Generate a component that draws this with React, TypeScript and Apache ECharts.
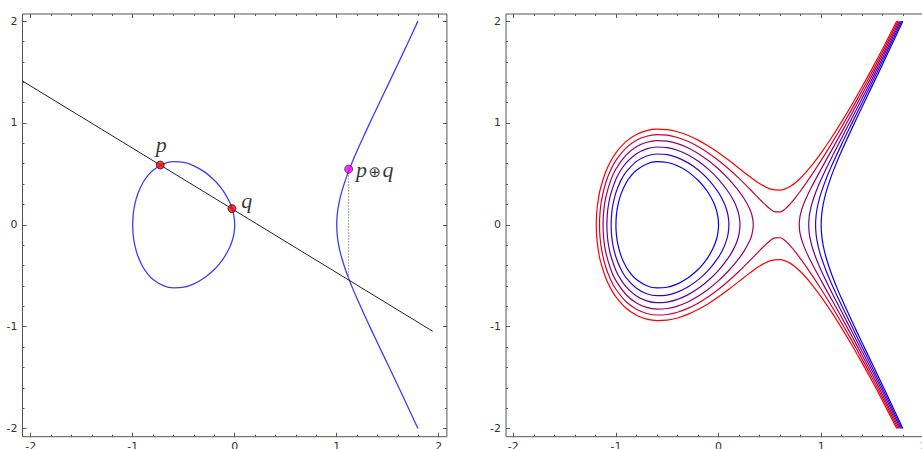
import React, { useEffect, useRef } from "react";
import * as echarts from "echarts";

// ---------- data ----------
const tickValues = [-2, -1, 0, 1, 2];
const tickLabels = ["-2", "-1", "0", "1", "2"];

// contour levels of y^2 - x^3 + x, right panel (blue -> red)
const levels = [0, 0.1, 0.2, 0.3, 0.4, 0.5];
const levelColors = ["#0000ff", "#3300cc", "#660099", "#990066", "#cc0033", "#ff0000"];

// upper halves of the curves, [x, y]; lower halves are their mirror images
const loopC0 = [[-1, 0], [-0.995, 0.0997], [-0.98, 0.197], [-0.95, 0.3043], [-0.9, 0.4135], [-0.85, 0.4857], [-0.8, 0.5367], [-0.7, 0.5975], [-0.6, 0.6197], [-0.5, 0.6124], [-0.4, 0.5797], [-0.3, 0.5225], [-0.2, 0.4382], [-0.15, 0.3829], [-0.1, 0.3146], [-0.05, 0.2233], [-0.02, 0.1414], [-0.005, 0.0707], [0, 0]];
const branchC0 = [[1, 0], [1.005, 0.1004], [1.02, 0.203], [1.05, 0.3281], [1.1, 0.4806], [1.15, 0.609], [1.2, 0.7266], [1.3, 0.9471], [1.4, 1.1593], [1.5, 1.3693], [1.6, 1.5799], [1.7, 1.7925], [1.796, 2]];
const loopC1 = [[-1.0467, 0], [-1.042, 0.1031], [-1.03, 0.1931], [-1, 0.3162], [-0.95, 0.4389], [-0.9, 0.5206], [-0.8, 0.6229], [-0.7, 0.676], [-0.6, 0.6957], [-0.5, 0.6892], [-0.4, 0.6603], [-0.3, 0.6107], [-0.2, 0.5404], [-0.1, 0.4461], [0, 0.3162], [0.05, 0.2239], [0.08, 0.1432], [0.095, 0.0765], [0.101, 0]];
const branchC1 = [[0.9456, 0], [0.95, 0.0859], [0.96, 0.1573], [0.98, 0.2474], [1, 0.3162], [1.05, 0.4557], [1.1, 0.5753], [1.2, 0.7925], [1.3, 0.9985], [1.4, 1.2017], [1.5, 1.4053], [1.6, 1.6112], [1.7, 1.8202], [1.785, 2]];
const loopC2 = [[-1.088, 0], [-1.083, 0.113], [-1.07, 0.212], [-1.05, 0.3039], [-1, 0.4472], [-0.95, 0.5409], [-0.9, 0.6091], [-0.8, 0.6986], [-0.7, 0.7463], [-0.6, 0.7642], [-0.5, 0.7583], [-0.4, 0.7321], [-0.3, 0.6877], [-0.2, 0.6261], [-0.1, 0.5468], [0, 0.4472], [0.1, 0.3178], [0.15, 0.231], [0.18, 0.1607], [0.2, 0.0894], [0.2091, 0]];
const branchC2 = [[0.8789, 0], [0.883, 0.0739], [0.89, 0.1223], [0.91, 0.2087], [0.95, 0.3277], [1, 0.4472], [1.1, 0.6565], [1.2, 0.8532], [1.3, 1.0474], [1.4, 1.2426], [1.5, 1.4405], [1.6, 1.642], [1.7, 1.8474], [1.773, 2]];
const loopC3 = [[-1.1254, 0], [-1.12, 0.1228], [-1.1, 0.2627], [-1.05, 0.4386], [-1, 0.5477], [-0.9, 0.6863], [-0.8, 0.7668], [-0.7, 0.8106], [-0.6, 0.827], [-0.5, 0.8216], [-0.4, 0.7975], [-0.3, 0.757], [-0.2, 0.7014], [-0.1, 0.6317], [0, 0.5477], [0.1, 0.4483], [0.2, 0.3286], [0.25, 0.2562], [0.3, 0.1643], [0.325, 0.0966], [0.3389, 0]];
const branchC3 = [[0.7865, 0], [0.79, 0.0551], [0.8, 0.1095], [0.82, 0.1771], [0.85, 0.2532], [0.9, 0.3592], [1, 0.5477], [1.1, 0.7287], [1.2, 0.9099], [1.3, 1.0941], [1.4, 1.2822], [1.5, 1.4748], [1.6, 1.6721], [1.7, 1.8743], [1.761, 2]];
const curveC4 = [[-1.1597, 0], [-1.155, 0.1192], [-1.14, 0.2418], [-1.1, 0.4111], [-1.05, 0.5407], [-1, 0.6325], [-0.9, 0.7556], [-0.8, 0.8295], [-0.7, 0.8701], [-0.6, 0.8854], [-0.5, 0.8803], [-0.4, 0.8579], [-0.3, 0.8204], [-0.2, 0.7694], [-0.1, 0.7064], [0, 0.6325], [0.1, 0.5486], [0.2, 0.4561], [0.3, 0.3564], [0.4, 0.253], [0.45, 0.2028], [0.5, 0.1581], [0.55, 0.128], [0.6, 0.1265], [0.65, 0.1569], [0.7, 0.2074], [0.75, 0.2681], [0.8, 0.3347], [0.9, 0.4785], [1, 0.6325], [1.1, 0.7944], [1.2, 0.9633], [1.3, 1.1389], [1.4, 1.3206], [1.5, 1.5083], [1.6, 1.7018], [1.7, 1.9008], [1.749, 2]];
const curveC5 = [[-1.1915, 0], [-1.187, 0.1206], [-1.17, 0.2615], [-1.15, 0.3593], [-1.1, 0.5187], [-1.05, 0.6264], [-1, 0.7071], [-0.9, 0.8191], [-0.8, 0.8877], [-0.7, 0.9257], [-0.6, 0.9402], [-0.5, 0.9354], [-0.4, 0.9143], [-0.3, 0.8792], [-0.2, 0.8319], [-0.1, 0.774], [0, 0.7071], [0.1, 0.6332], [0.2, 0.555], [0.3, 0.4764], [0.4, 0.405], [0.5, 0.3536], [0.6, 0.3406], [0.7, 0.3782], [0.8, 0.4604], [0.9, 0.5736], [1, 0.7071], [1.1, 0.855], [1.2, 1.0139], [1.3, 1.1819], [1.4, 1.3579], [1.5, 1.5411], [1.6, 1.7309], [1.7365, 2]];

// left panel: chord through p and q, and the sum point
const chordLine = [[-2.09, 1.418], [1.941, -1.045]];
const pointP = [-0.73, 0.587];
const pointQ = [-0.027, 0.16];
const pointSum = [1.117, 0.547];
const pointThird = [1.117, -0.54];

// ---------- layout ----------
const LEFT_FRAME = { x0: 22.5, x1: 446.9, y0: 14, y1: 436.7 };
const RIGHT_FRAME = { x0: 506, x1: 932, y0: 14, y1: 436.7 };
const X_RANGE_L = [-2.08, 2.08];
const X_RANGE_R = [-2.071, 2.08];
const Y_RANGE = [-2.08, 2.07];

type Pt = number[];
const closedLoop = (u: Pt[]) => [
  ...u,
  ...u.slice(0, -1).reverse().map(([x, y]) => [x, -y]),
  u[1],
];
const openCurve = (u: Pt[]) => [
  ...u.slice(1).reverse().map(([x, y]) => [x, -y]),
  ...u,
];

function innerBox(f: any, xr: number[], yr: number[]) {
  const sx = (f.x1 - f.x0) / (xr[1] - xr[0]);
  const sy = (f.y1 - f.y0) / (yr[1] - yr[0]);
  const left = f.x0 + (-2 - xr[0]) * sx;
  const right = f.x0 + (2 - xr[0]) * sx;
  const top = f.y0 + (yr[1] - 2) * sy;
  const bottom = f.y0 + (yr[1] + 2) * sy;
  return {
    left, top, width: right - left, height: bottom - top,
    offL: left - f.x0, offR: f.x1 - right, offT: top - f.y0, offB: f.y1 - bottom,
  };
}

const AX = "#555";
const labelStyle = {
  fontSize: 11,
  color: "#333",
  fontFamily: "DejaVu Sans",
  formatter: (v: number) => {
    const i = tickValues.indexOf(Math.round(v * 1000) / 1000);
    return i >= 0 ? tickLabels[i] : "";
  },
  showMinLabel: true,
  showMaxLabel: true,
};

function tickAxis(gridIndex: number, position: string, offset: number, showLabel: boolean, margin: number) {
  return {
    type: "value",
    gridIndex,
    position,
    offset,
    min: -2,
    max: 2,
    interval: 1,
    axisLine: { show: false, onZero: false },
    axisTick: { show: true, inside: true, length: 4, lineStyle: { color: AX, width: 1 } },
    minorTick: { show: true, splitNumber: 5, length: 2, lineStyle: { color: AX, width: 1 } },
    splitLine: { show: false },
    minorSplitLine: { show: false },
    axisLabel: { ...labelStyle, show: showLabel, margin },
  };
}

function dataAxis(gridIndex: number, range: number[]) {
  return { type: "value", gridIndex, min: range[0], max: range[1], show: false, axisLine: { onZero: false } };
}

function lineSeries(data: Pt[], xi: number, color: string, width: number, extra: any = {}) {
  return {
    type: "line",
    xAxisIndex: xi,
    yAxisIndex: xi,
    data,
    showSymbol: false,
    symbol: "none",
    smooth: 0.35,
    lineStyle: { color, width },
    emphasis: { disabled: true },
    silent: true,
    z: 2,
    ...extra,
  };
}

export default function App() {
  const ref = useRef<HTMLDivElement>(null);
  useEffect(() => {
    if (!ref.current) return;
    const chart = echarts.init(ref.current, undefined, { renderer: "svg" });
    const L = innerBox(LEFT_FRAME, X_RANGE_L, Y_RANGE);
    const R = innerBox(RIGHT_FRAME, X_RANGE_R, Y_RANGE);
    const frameGrid = (f: any) => ({
      left: f.x0, top: f.y0, width: f.x1 - f.x0, height: f.y1 - f.y0,
      show: true, borderColor: AX, borderWidth: 1, backgroundColor: "transparent",
      containLabel: false, outerBoundsMode: "none",
    });
    const tickGrid = (b: any) => ({
      left: b.left, top: b.top, width: b.width, height: b.height,
      show: false, containLabel: false, outerBoundsMode: "none",
    });

    const blueL = "#3d3dff";
    const serifItalic = { fontFamily: "Liberation Serif", fontStyle: "italic", fontSize: 22, color: "#000" };
    const series: any[] = [
      lineSeries(closedLoop(loopC0), 0, blueL, 1.3),
      lineSeries(openCurve(branchC0), 0, blueL, 1.3),
      lineSeries(chordLine, 0, "#222", 1, { smooth: false, z: 3 }),
      lineSeries([pointSum, pointThird], 0, "#888", 1, { smooth: false, z: 3, lineStyle: { color: "#888", width: 1, type: [1.5, 1.5] } }),
      {
        type: "scatter", xAxisIndex: 0, yAxisIndex: 0, z: 5, silent: true,
        symbolSize: 8,
        itemStyle: { color: "#ff0000", borderColor: "#000", borderWidth: 0.8 },
        data: [
          {
            value: pointP,
            label: { show: true, formatter: "p", position: "inside", offset: [1, -21], ...serifItalic },
          },
          {
            value: pointQ,
            label: { show: true, formatter: "q", position: "right", distance: 5, offset: [0, -8], ...serifItalic },
          },
        ],
      },
      {
        type: "scatter", xAxisIndex: 0, yAxisIndex: 0, z: 5, silent: true,
        symbolSize: 8,
        itemStyle: { color: "#ff00ff", borderColor: "#400040", borderWidth: 0.8 },
        data: [
          {
            value: pointSum,
            label: {
              show: true, formatter: "{i|p}{o|\u2295}{i|q}", position: "right", distance: 3, offset: [0, 0],
              color: "#000",
              rich: {
                i: { ...serifItalic },
                o: { fontFamily: "DejaVu Sans", fontSize: 15, color: "#000", padding: [6, 1.5, 0, 1.5] },
              },
            },
          },
        ],
      },
    ];

    const rightCurves = [
      [closedLoop(loopC0), openCurve(branchC0)],
      [closedLoop(loopC1), openCurve(branchC1)],
      [closedLoop(loopC2), openCurve(branchC2)],
      [closedLoop(loopC3), openCurve(branchC3)],
      [openCurve(curveC4)],
      [openCurve(curveC5)],
    ];
    levels.forEach((lv, i) => {
      rightCurves[i].forEach((d) => {
        series.push({ ...lineSeries(d, 3, levelColors[i], 1.2), name: "c=" + lv });
      });
    });

    chart.setOption({
      animation: false,
      backgroundColor: "#ffffff",
      grid: [frameGrid(LEFT_FRAME), tickGrid(L), frameGrid(RIGHT_FRAME), tickGrid(R)],
      xAxis: [
        dataAxis(0, X_RANGE_L),
        tickAxis(1, "bottom", L.offB, true, 4),
        tickAxis(1, "top", L.offT, false, 4),
        dataAxis(2, X_RANGE_R),
        tickAxis(3, "bottom", R.offB, true, 4),
        tickAxis(3, "top", R.offT, false, 4),
      ],
      yAxis: [
        dataAxis(0, Y_RANGE),
        tickAxis(1, "left", L.offL, true, 5),
        tickAxis(1, "right", L.offR, false, 5),
        dataAxis(2, Y_RANGE),
        tickAxis(3, "left", R.offL, true, 5),
        tickAxis(3, "right", R.offR, false, 5),
      ],
      series,
    });
    return () => chart.dispose();
  }, []);
  return (
    <div
      ref={ref}
      style={{ position: "absolute", left: 0, top: 0, width: 922, height: 449, background: "#fff" }}
    />
  );
}
